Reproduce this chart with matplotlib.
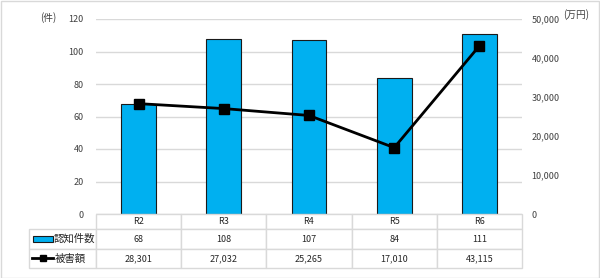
import matplotlib
matplotlib.use("Agg")
import matplotlib.pyplot as plt
from matplotlib.patches import Rectangle
from matplotlib.lines import Line2D

plt.rcParams['font.family'] = ['Noto Sans CJK JP', 'DejaVu Sans']

categories = ["R2", "R3", "R4", "R5", "R6"]
cases = [68, 108, 107, 84, 111]
damage = [28301, 27032, 25265, 17010, 43115]
left_ticks = [0, 20, 40, 60, 80, 100, 120]
right_ticks = [0, 10000, 20000, 30000, 40000, 50000]
series_names = ["認知件数", "被害額"]

W, H = 600, 278
fig = plt.figure(figsize=(W / 100, H / 100), dpi=100)
fig.patches.append(Rectangle((0.5 / W, 0.5 / H), (W - 1.5) / W, (H - 1.5) / H,
                             transform=fig.transFigure, fill=False,
                             edgecolor="#d9d9d9", lw=1))

def fx(px):
    return px / W

def fy(py):
    return 1 - py / H

x0, x1 = 96, 522
ytop, ybot = 19, 214
ax = fig.add_axes([fx(x0), fy(ybot), fx(x1 - x0), (ybot - ytop) / H])
xs = list(range(len(categories)))
ax.bar(xs, cases, width=0.41, color="#00B0F0", edgecolor="#1a1a1a", lw=0.8, zorder=2)
ax.set_xlim(-0.5, len(categories) - 0.5)
ax.set_ylim(0, 120)
ax.set_yticks(left_ticks)
ax.set_xticks([])
ax.grid(axis="y", color="#d9d9d9", lw=1, zorder=0)
for s in ax.spines.values():
    s.set_visible(False)
ax.tick_params(axis="y", length=0, pad=9, labelsize=6.5, labelcolor="#404040")

ax2 = ax.twinx()
ax2.plot(xs, damage, color="black", lw=2, marker="s", ms=6.5, zorder=3)
ax2.set_ylim(0, 50000)
ax2.set_yticks(right_ticks)
ax2.set_yticklabels([f"{v:,}" for v in right_ticks])
for s in ax2.spines.values():
    s.set_visible(False)
ax2.tick_params(axis="y", length=0, pad=7, labelsize=6.5, labelcolor="#404040")

fig.text(fx(48), fy(18), "(件)", ha="center", va="center", fontsize=7, color="#404040")
fig.text(fx(576), fy(15), "(万円)", ha="center", va="center", fontsize=7, color="#404040")

# table
tx0, tx1, ty0, ty1 = 29, 522, 214, 268
tax = fig.add_axes([fx(tx0), fy(ty1), fx(tx1 - tx0), (ty1 - ty0) / H])
tax.set_axis_off()
cell_text = [[""] + categories,
             [""] + [str(v) for v in cases],
             [""] + [f"{v:,}" for v in damage]]
first_w = (x0 - tx0) / (tx1 - tx0)
col_w = (1 - first_w) / len(categories)
tbl = tax.table(cellText=cell_text, bbox=[0, 0, 1, 1], cellLoc="center",
                colWidths=[first_w] + [col_w] * len(categories))
tbl.auto_set_font_size(False)
tbl.set_fontsize(6.5)
heights = [15, 20, 19]
tot = sum(heights)
for (r, c), cell in tbl.get_celld().items():
    cell.set_edgecolor("#d9d9d9")
    cell.set_linewidth(1)
    cell.set_height(heights[r] / tot)
    cell.get_text().set_color("#262626")
    if r == 0 and c == 0:
        cell.visible_edges = ""

# legend symbols and names in first column
def tfx(px):
    return (px - tx0) / (tx1 - tx0)

def tfy(py):
    return (ty1 - py) / (ty1 - ty0)

tax.add_patch(Rectangle((tfx(33), tfy(241.5)), tfx(53) - tfx(33), tfy(236) - tfy(241.5),
                        transform=tax.transAxes, facecolor="#00B0F0", edgecolor="#1a1a1a",
                        lw=0.8, clip_on=False))
tax.add_line(Line2D([tfx(32), tfx(53)], [tfy(258), tfy(258)], transform=tax.transAxes,
                    color="black", lw=2, marker="", clip_on=False))
tax.add_line(Line2D([tfx(42.5)], [tfy(258)], transform=tax.transAxes,
                    color="black", marker="s", ms=4.5, clip_on=False))
tax.text(tfx(54), tfy(239), series_names[0], transform=tax.transAxes, ha="left",
         va="center", fontsize=7.5, color="#262626")
tax.text(tfx(55), tfy(258.5), series_names[1], transform=tax.transAxes, ha="left",
         va="center", fontsize=7.5, color="#262626")

fig.savefig("out.png", dpi=100)
